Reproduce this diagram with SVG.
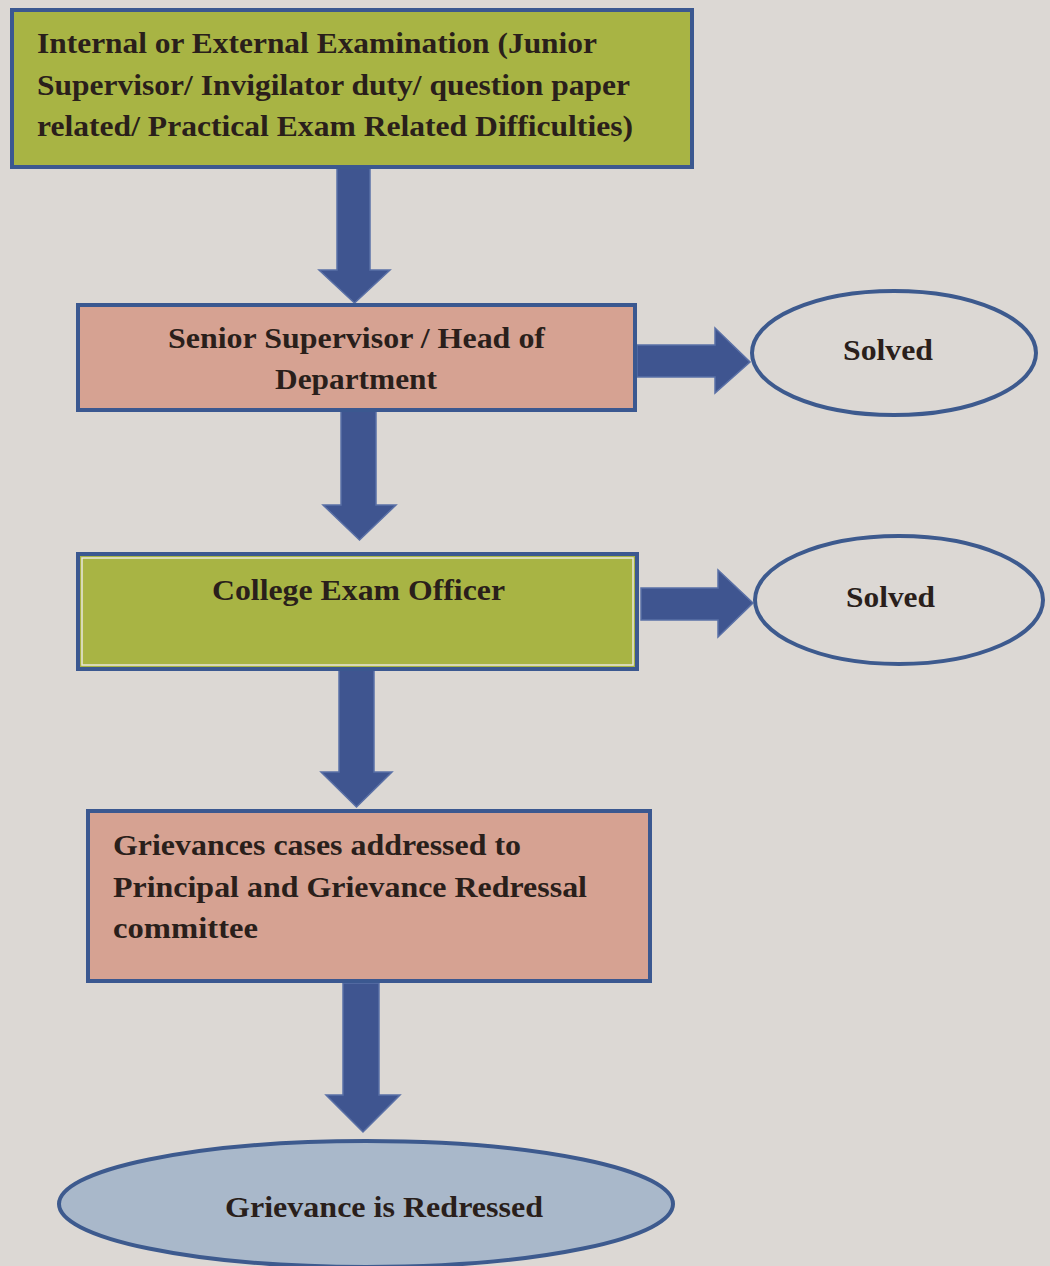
<svg xmlns="http://www.w3.org/2000/svg" width="1050" height="1266" viewBox="0 0 1050 1266">
<style>
.box{stroke:#3b5890;stroke-width:4}
.green{fill:#a8b444}
.pink{fill:#d6a292}
.oval{fill:none;stroke:#3d5a8e;stroke-width:4}
.arr{fill:#3f5590;stroke:#5a70a6;stroke-width:1.5;stroke-linejoin:miter}
text{font-family:"Liberation Serif","Times New Roman",serif;font-weight:bold;font-size:29px;fill:#2a1f1b}
</style>
<rect x="0" y="0" width="1050" height="1266" fill="#dcd8d4"/>
<g id="connectors">
<polygon class="arr" points="337,168 370,168 370,270 390,270 354.5,303 319,270 337,270"/>
<polygon class="arr" points="341,411 376,411 376,505 396,505 359.5,540 323,505 341,505"/>
<polygon class="arr" points="339,670 374,670 374,772 392,772 356.5,807 321,772 339,772"/>
<polygon class="arr" points="343,983 379,983 379,1095 400,1095 363,1132 326,1095 343,1095"/>
<polygon class="arr" points="637,345 715,345 715,328 750,362 715,393 715,377 637,377"/>
<polygon class="arr" points="641,588 718,588 718,570 753,603 718,637 718,620 641,620"/>
</g>
<g id="node-exam">
<rect class="box green" x="12" y="10" width="680" height="157"/>
<text x="37" y="53" textLength="560" lengthAdjust="spacingAndGlyphs">Internal or External Examination (Junior</text>
<text x="37" y="95" textLength="593" lengthAdjust="spacingAndGlyphs">Supervisor/ Invigilator duty/ question paper</text>
<text x="37" y="136" textLength="596" lengthAdjust="spacingAndGlyphs">related/ Practical Exam Related Difficulties)</text>
</g>
<g id="node-senior">
<rect class="box pink" x="78" y="305" width="557" height="105"/>
<text x="168" y="348" textLength="377" lengthAdjust="spacingAndGlyphs">Senior Supervisor / Head of</text>
<text x="275" y="389" textLength="162" lengthAdjust="spacingAndGlyphs">Department</text>
</g>
<g id="node-solved1">
<ellipse class="oval" cx="894" cy="353" rx="142" ry="62"/>
<text x="843" y="360" textLength="90" lengthAdjust="spacingAndGlyphs">Solved</text>
</g>
<g id="node-officer">
<rect class="box green" x="78" y="554" width="559" height="115"/>
<rect x="82" y="558" width="551" height="107" fill="none" stroke="#e8e6dc" stroke-width="1.5"/>
<text x="212" y="600" textLength="293" lengthAdjust="spacingAndGlyphs">College Exam Officer</text>
</g>
<g id="node-solved2">
<ellipse class="oval" cx="899" cy="600" rx="144" ry="64"/>
<text x="846" y="607" textLength="89" lengthAdjust="spacingAndGlyphs">Solved</text>
</g>
<g id="node-grievance">
<rect class="box pink" x="88" y="811" width="562" height="170"/>
<text x="113" y="855" textLength="408" lengthAdjust="spacingAndGlyphs">Grievances cases addressed to</text>
<text x="113" y="897" textLength="474" lengthAdjust="spacingAndGlyphs">Principal and Grievance Redressal</text>
<text x="113" y="938" textLength="145" lengthAdjust="spacingAndGlyphs">committee</text>
</g>
<g id="node-redressed">
<ellipse cx="366" cy="1204" rx="307" ry="63" fill="#a9b8ca" stroke="#3d5a8e" stroke-width="4"/>
<text x="225" y="1217" textLength="318" lengthAdjust="spacingAndGlyphs">Grievance is Redressed</text>
</g>
</svg>
